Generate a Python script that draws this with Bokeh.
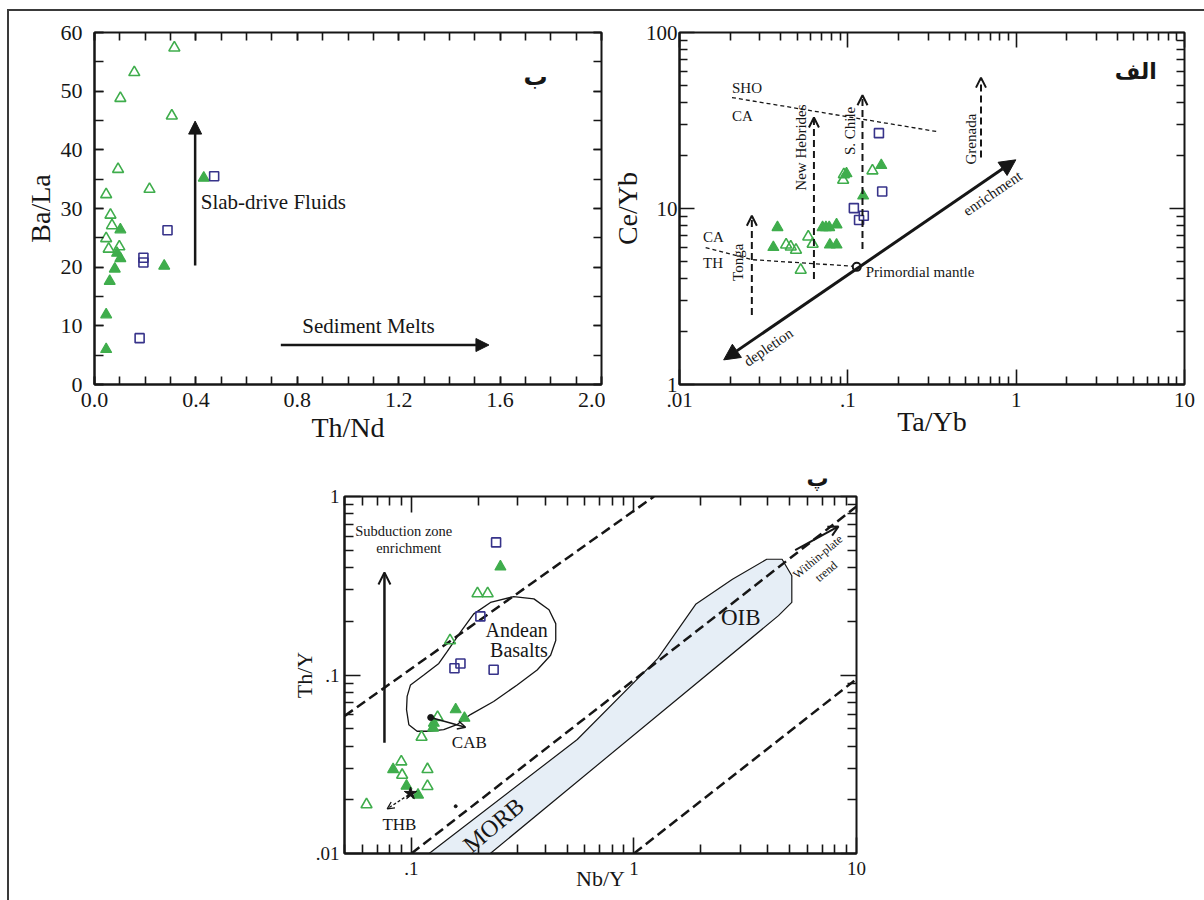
from bokeh.plotting import figure
from bokeh.layouts import row, column
from bokeh.models import (LinearAxis, FixedTicker, SingleIntervalTicker,
                          PrintfTickFormatter, CustomJSTickFormatter, Arrow, NormalHead,
                          OpenHead, Range1d, Div, Spacer, CustomLabelingPolicy)
from bokeh.core.properties import value
from bokeh.embed import file_html
from bokeh.resources import INLINE

SERIF = "Liberation Serif"
PERSIAN = "DejaVu Sans"
GREEN = "#3fad4c"
PURPLE = "#37338a"
INK = "#161616"

# ---------------- Panel "ب" : Ba/La vs Th/Nd ----------------
b_open_thnd = [0.315, 0.157, 0.102, 0.305, 0.093, 0.217, 0.046, 0.063, 0.069, 0.046, 0.056, 0.098]
b_open_bala = [57.4, 53.2, 48.8, 45.8, 36.7, 33.3, 32.4, 28.9, 27.1, 24.9, 23.1, 23.5]
b_fill_thnd = [0.102, 0.089, 0.102, 0.080, 0.060, 0.046, 0.046, 0.275, 0.431]
b_fill_bala = [26.4, 22.4, 21.5, 19.7, 17.6, 11.9, 6.0, 20.2, 35.2]
b_sq_thnd = [0.472, 0.288, 0.193, 0.193, 0.178]
b_sq_bala = [35.5, 26.3, 21.6, 20.8, 7.9]
b_arrow_x0 = [0.397, 0.735]
b_arrow_y0 = [20.3, 6.73]
b_arrow_x1 = [0.397, 1.556]
b_arrow_y1 = [44.9, 6.73]
b_text = ["Slab-drive Fluids", "Sediment Melts"]
b_text_x = [0.419, 0.82]
b_text_y = [31.1, 9.9]
b_tag_x, b_tag_y = [1.74], [52.4]

# ---------------- Panel "الف" : Ce/Yb vs Ta/Yb ----------------
a_open_tayb = [0.0430, 0.0458, 0.0492, 0.0582, 0.0618, 0.0525, 0.0938, 0.0947, 0.140]
a_open_ceyb = [6.22, 6.06, 5.81, 6.91, 6.28, 4.47, 14.5, 15.6, 16.4]
a_fill_tayb = [0.0382, 0.0361, 0.0708, 0.0741, 0.0775, 0.0857, 0.0782, 0.0857, 0.0982, 0.1233, 0.158]
a_fill_ceyb = [7.81, 6.02, 7.81, 7.81, 7.81, 8.09, 6.22, 6.22, 15.8, 11.8, 17.6]
a_sq_tayb = [0.153, 0.160, 0.1086, 0.1244, 0.1166]
a_sq_ceyb = [26.8, 12.5, 10.05, 9.09, 8.6]
a_sho_x = [0.0205, 0.335]
a_sho_y = [42.7, 27.4]
a_th_x = [0.0143, 0.027, 0.112]
a_th_y = [6.0, 5.12, 4.69]
a_pm_x, a_pm_y = [0.113], [4.66]
a_trend_x = [0.0183, 0.995]
a_trend_y = [1.38, 18.9]
a_arc_x = [0.0269, 0.0629, 0.1222, 0.618]
a_arc_y0 = [2.48, 3.98, 5.89, 19.5]
a_arc_y1 = [9.1, 32.9, 44.0, 55.4]
a_arc_names = ["Tonga", "New Hebrides", "S. Chile", "Grenada"]
a_arc_lx = [0.0224, 0.0527, 0.1037, 0.54]
a_arc_ly = [4.95, 22.2, 27.6, 24.8]
a_field_names = ["SHO", "CA", "CA", "TH"]
a_field_x = [0.0205, 0.0205, 0.0138, 0.0138]
a_field_y = [48.6, 33.6, 6.86, 4.88]
a_trend_names = ["depletion", "enrichment"]
a_trend_lx = [0.0337, 0.724]
a_trend_ly = [1.63, 12.2]
a_tag_x, a_tag_y = [5.13], [60.0]

# ---------------- Panel "پ" : Th/Y vs Nb/Y ----------------
c_open_nby = [0.131, 0.111, 0.149, 0.198, 0.220, 0.090, 0.0908, 0.118, 0.118, 0.0628]
c_open_thy = [0.058, 0.0449, 0.156, 0.286, 0.286, 0.0327, 0.0275, 0.0296, 0.0238, 0.0188]
c_fill_nby = [0.126, 0.125, 0.158, 0.173, 0.251, 0.0827, 0.095, 0.107]
c_fill_thy = [0.0538, 0.0505, 0.064, 0.0574, 0.404, 0.0296, 0.0239, 0.0213]
c_sq_nby = [0.240, 0.204, 0.156, 0.166, 0.234]
c_sq_thy = [0.553, 0.213, 0.109, 0.116, 0.107]
c_lines_x = [[0.0501, 1.23], [0.1, 10.0], [1.0, 10.0]]
c_lines_y = [[0.059, 1.0], [0.01, 0.88], [0.01, 0.095]]
c_band_x = [0.120, 0.556, 1.28, 1.90, 2.77, 3.95, 4.63, 5.12, 5.12, 4.46, 0.226]
c_band_y = [0.0100, 0.0435, 0.124, 0.25, 0.344, 0.445, 0.445, 0.36, 0.255, 0.215, 0.0100]
c_andes_x = [0.0956, 0.099, 0.1136, 0.1327, 0.1446, 0.166, 0.1905, 0.2265, 0.288, 0.355, 0.415,
             0.445, 0.445, 0.422, 0.367, 0.2985, 0.234, 0.184, 0.160, 0.1396, 0.1197, 0.106,
             0.0973, 0.0950, 0.0956]
c_andes_y = [0.0759, 0.088, 0.100, 0.116, 0.135, 0.174, 0.220, 0.255, 0.275, 0.267, 0.232,
             0.194, 0.156, 0.129, 0.1066, 0.088, 0.0711, 0.060, 0.0527, 0.0494, 0.0484, 0.0484,
             0.0527, 0.064, 0.0759]
c_star_x, c_star_y = [0.099], [0.0217]
c_cab_x, c_cab_y = [0.122], [0.0578]
c_dot_x, c_dot_y = [0.158], [0.0184]
c_sub_arrow = dict(x0=0.0756, y0=0.0417, x1=0.0756, y1=0.375)
c_cab_arrow = dict(x0=0.122, y0=0.0578, x1=0.175, y1=0.051)
c_thb_arrow = dict(x0=0.097, y0=0.0213, x1=0.0778, y1=0.0178)
c_wp_arrow = dict(x0=5.3, y0=0.50, x1=8.3, y1=0.68)
c_labels = ["Subduction zone", "enrichment", "Andean", "Basalts", "CAB", "THB", "OIB"]
c_label_x = [0.0923, 0.0972, 0.297, 0.304, 0.182, 0.0883, 3.02]
c_label_y = [0.64, 0.516, 0.179, 0.138, 0.0417, 0.0146, 0.211]
c_label_size = ["14.5px", "14.5px", "20px", "20px", "17px", "17px", "23px"]
c_rot_labels = ["MORB", "Within-plate", "trend"]
c_rot_x = [0.234, 6.7, 7.3]
c_rot_y = [0.0144, 0.46, 0.38]
c_rot_size = ["24px", "12px", "12px"]

decade_minor = lambda lo, hi: [m * 10.0 ** e for e in range(lo, hi) for m in range(2, 10)]


def logfmt():
    return CustomJSTickFormatter(code="return tick < 1 ? String(tick).replace(/^0/, '') : String(tick);")


def style_axis(ax, tick_px, major_in, minor_in, label_px=None, lab_stand=5, axlab_stand=4):
    ax.major_tick_in = major_in
    ax.major_tick_out = 0
    ax.minor_tick_in = minor_in
    ax.minor_tick_out = 0
    ax.major_tick_line_color = INK
    ax.minor_tick_line_color = INK
    ax.major_tick_line_width = 1.6
    ax.minor_tick_line_width = 1.6
    ax.axis_line_color = INK
    ax.axis_line_width = 2
    ax.major_label_text_font = SERIF
    ax.major_label_text_font_size = tick_px
    ax.major_label_text_color = INK
    ax.major_label_standoff = lab_stand
    ax.axis_label_text_font = SERIF
    ax.axis_label_text_font_style = "normal"
    ax.axis_label_text_color = INK
    if label_px:
        ax.axis_label_text_font_size = label_px
    ax.axis_label_standoff = axlab_stand


def mirror(p, xticker, yticker, major_in, minor_in):
    top = LinearAxis(ticker=xticker)
    right = LinearAxis(ticker=yticker)
    for ax in (top, right):
        style_axis(ax, "1px", major_in, minor_in, lab_stand=0, axlab_stand=0)
        ax.major_label_policy = CustomLabelingPolicy(code="return []")
        ax.axis_line_color = None
    p.add_layout(top, "above")
    p.add_layout(right, "right")


def base_fig(**kw):
    p = figure(output_backend="svg", toolbar_location=None, background_fill_color="white",
               border_fill_color="white", outline_line_color=INK, outline_line_width=2, **kw)
    p.xgrid.visible = False
    p.ygrid.visible = False
    return p


def markers(p, ox, oy, fx, fy, sx, sy):
    p.scatter(ox, oy, marker="triangle", size=11, fill_color=None, line_color=GREEN, line_width=1.6)
    p.scatter(fx, fy, marker="triangle", size=11, fill_color=GREEN, line_color=GREEN, line_width=1.2)
    p.scatter(sx, sy, marker="square", size=9, fill_color=None, line_color=PURPLE, line_width=1.6)


# ================= Panel 1 =================
p1 = base_fig(width=596, height=450, x_range=Range1d(0, 2.0), y_range=Range1d(0, 60),
              min_border_left=85, min_border_right=2, min_border_top=21, min_border_bottom=77)
p1.xaxis.ticker = SingleIntervalTicker(interval=0.4, num_minor_ticks=4)
p1.yaxis.ticker = SingleIntervalTicker(interval=10, num_minor_ticks=2)
p1.xaxis.formatter = PrintfTickFormatter(format="%.1f")
p1.xaxis.axis_label = "Th/Nd"
p1.yaxis.axis_label = "Ba/La"
style_axis(p1.xaxis[0], "22px", 8, 8, "28px", lab_stand=8, axlab_stand=2)
style_axis(p1.yaxis[0], "22px", 9, 9, "28px", lab_stand=12, axlab_stand=2)
mirror(p1, SingleIntervalTicker(interval=0.4, num_minor_ticks=4),
       SingleIntervalTicker(interval=10, num_minor_ticks=2), 8, 8)
for i in range(len(b_arrow_x0)):
    p1.add_layout(Arrow(end=NormalHead(size=13, fill_color=INK, line_color=INK),
                        x_start=b_arrow_x0[i], y_start=b_arrow_y0[i],
                        x_end=b_arrow_x1[i], y_end=b_arrow_y1[i], line_width=2.5, line_color=INK))
markers(p1, b_open_thnd, b_open_bala, b_fill_thnd, b_fill_bala, b_sq_thnd, b_sq_bala)
p1.text(b_text_x, b_text_y, text=b_text, text_font=value(SERIF), text_font_size="21px",
        text_color=INK, text_align="left", text_baseline="middle")
p1.text(b_tag_x, b_tag_y, text=["ب"], text_font=value(PERSIAN), text_font_size="24px",
        text_font_style="bold", text_color=INK, text_align="center", text_baseline="middle")

# ================= Panel 2 =================
p2 = base_fig(width=599, height=450, x_axis_type="log", y_axis_type="log",
              x_range=Range1d(0.01, 10), y_range=Range1d(1, 100),
              min_border_left=74, min_border_right=20, min_border_top=21, min_border_bottom=77)
p2.xaxis.ticker = FixedTicker(ticks=[0.01, 0.1, 1, 10], minor_ticks=decade_minor(-2, 1))
p2.yaxis.ticker = FixedTicker(ticks=[1, 10, 100], minor_ticks=decade_minor(0, 2))
p2.xaxis.formatter = logfmt()
p2.yaxis.formatter = logfmt()
p2.xaxis.axis_label = "Ta/Yb"
p2.yaxis.axis_label = "Ce/Yb"
style_axis(p2.xaxis[0], "21px", 15, 8, "28px", lab_stand=8, axlab_stand=-4)
style_axis(p2.yaxis[0], "21px", 15, 8, "28px", lab_stand=2, axlab_stand=0)
mirror(p2, FixedTicker(ticks=[0.01, 0.1, 1, 10], minor_ticks=decade_minor(-2, 1)),
       FixedTicker(ticks=[1, 10, 100], minor_ticks=decade_minor(0, 2)), 15, 8)
p2.line(a_sho_x, a_sho_y, line_color=INK, line_width=1.3, line_dash="4 3")
p2.line(a_th_x, a_th_y, line_color=INK, line_width=1.3, line_dash="4 3")
for i in range(len(a_arc_x)):
    p2.add_layout(Arrow(end=OpenHead(size=10, line_width=2, line_color=INK),
                        x_start=a_arc_x[i], y_start=a_arc_y0[i],
                        x_end=a_arc_x[i], y_end=a_arc_y1[i],
                        line_width=2, line_color=INK, line_dash="7 4"))
p2.add_layout(Arrow(start=NormalHead(size=16, fill_color=INK, line_color=INK),
                    end=NormalHead(size=16, fill_color=INK, line_color=INK),
                    x_start=a_trend_x[0], y_start=a_trend_y[0],
                    x_end=a_trend_x[1], y_end=a_trend_y[1], line_width=3, line_color=INK))
markers(p2, a_open_tayb, a_open_ceyb, a_fill_tayb, a_fill_ceyb, a_sq_tayb, a_sq_ceyb)
p2.scatter(a_pm_x, a_pm_y, marker="circle", size=8, fill_color="white", line_color=INK, line_width=2)
p2.text(a_field_x, a_field_y, text=a_field_names, text_font=value(SERIF), text_font_size="15px",
        text_color=INK, text_align="left", text_baseline="middle")
p2.text(a_arc_lx, a_arc_ly, text=a_arc_names, text_font=value(SERIF), text_font_size="15px",
        text_color=INK, text_align="center", text_baseline="middle", angle=1.5708)
p2.text(a_trend_lx, a_trend_ly, text=a_trend_names, text_font=value(SERIF), text_font_size="15px",
        text_color=INK, text_align="center", text_baseline="middle", angle=0.602)
p2.text([a_pm_x[0] * 1.13], [a_pm_y[0] * 0.93], text=["Primordial mantle"], text_font=value(SERIF),
        text_font_size="15px", text_color=INK, text_align="left", text_baseline="middle")
p2.text(a_tag_x, a_tag_y, text=["الف"], text_font=value(PERSIAN), text_font_size="22px",
        text_font_style="bold", text_color=INK, text_align="center", text_baseline="middle")

# ================= Panel 3 =================
p3 = base_fig(width=597, height=439, x_axis_type="log", y_axis_type="log",
              x_range=Range1d(0.05, 10), y_range=Range1d(0.01, 1),
              min_border_left=65, min_border_right=20, min_border_top=32, min_border_bottom=47,
              title="پ")
p3.title.text_font = PERSIAN
p3.title.text_font_size = "22px"
p3.title.text_font_style = "bold"
p3.title.text_color = INK
p3.title.align = "left"
p3.title.offset = 462
p3.title.standoff = 4
p3.xaxis.ticker = FixedTicker(ticks=[0.1, 1, 10], minor_ticks=decade_minor(-2, 1))
p3.yaxis.ticker = FixedTicker(ticks=[0.01, 0.1, 1], minor_ticks=decade_minor(-2, 0))
p3.xaxis.formatter = logfmt()
p3.yaxis.formatter = logfmt()
p3.xaxis.axis_label = "Nb/Y"
p3.yaxis.axis_label = "Th/Y"
style_axis(p3.xaxis[0], "19px", 16, 9, "22px", lab_stand=8, axlab_stand=-12)
style_axis(p3.yaxis[0], "19px", 16, 9, "22px", lab_stand=5, axlab_stand=-4)
mirror(p3, FixedTicker(ticks=[0.1, 1, 10], minor_ticks=decade_minor(-2, 1)),
       FixedTicker(ticks=[0.01, 0.1, 1], minor_ticks=decade_minor(-2, 0)), 16, 9)
p3.patch(c_band_x, c_band_y, fill_color="#e6eef6", line_color=INK, line_width=1.2)
p3.line(c_andes_x, c_andes_y, line_color=INK, line_width=1.3)
p3.multi_line(c_lines_x, c_lines_y, line_color=INK, line_width=2.5, line_dash="10 5")
p3.add_layout(Arrow(end=OpenHead(size=12, line_width=2, line_color=INK),
                    x_start=c_sub_arrow["x0"], y_start=c_sub_arrow["y0"],
                    x_end=c_sub_arrow["x1"], y_end=c_sub_arrow["y1"], line_width=2.5, line_color=INK))
p3.add_layout(Arrow(end=OpenHead(size=8, line_width=1.5, line_color=INK),
                    x_start=c_cab_arrow["x0"], y_start=c_cab_arrow["y0"],
                    x_end=c_cab_arrow["x1"], y_end=c_cab_arrow["y1"], line_width=1.5, line_color=INK))
p3.add_layout(Arrow(end=OpenHead(size=7, line_width=1.3, line_color=INK),
                    x_start=c_thb_arrow["x0"], y_start=c_thb_arrow["y0"],
                    x_end=c_thb_arrow["x1"], y_end=c_thb_arrow["y1"], line_width=1.3,
                    line_color=INK, line_dash="3 2"))
p3.add_layout(Arrow(end=OpenHead(size=10, line_width=2, line_color=INK),
                    x_start=c_wp_arrow["x0"], y_start=c_wp_arrow["y0"],
                    x_end=c_wp_arrow["x1"], y_end=c_wp_arrow["y1"], line_width=2, line_color=INK))
markers(p3, c_open_nby, c_open_thy, c_fill_nby, c_fill_thy, c_sq_nby, c_sq_thy)
p3.scatter(c_star_x, c_star_y, marker="star", size=13, fill_color=INK, line_color=INK)
p3.scatter(c_cab_x, c_cab_y, marker="circle", size=6, fill_color=INK, line_color=INK)
p3.scatter(c_dot_x, c_dot_y, marker="circle", size=3, fill_color=INK, line_color=INK)
for i in range(len(c_labels)):
    p3.text([c_label_x[i]], [c_label_y[i]], text=[c_labels[i]], text_font=value(SERIF),
            text_font_size=c_label_size[i], text_color=INK, text_align="center",
            text_baseline="middle")
for i in range(len(c_rot_labels)):
    p3.text([c_rot_x[i]], [c_rot_y[i]], text=[c_rot_labels[i]], text_font=value(SERIF),
            text_font_size=c_rot_size[i], text_color=INK, text_align="center",
            text_baseline="middle", angle=0.70)

# ================= Layout with outer frame rules =================
RULE = "#3a3a3a"
top_rule = Div(text="", width=1197, height=2, margin=(0, 0, 0, 0), styles={"background-color": RULE})
left_rule = Div(text="", width=2, height=889, margin=(0, 0, 0, 0), styles={"background-color": RULE})
content = column(row(p1, p2), row(Spacer(width=270, height=10), p3))
layout = column(
    Spacer(width=1204, height=9),
    row(Spacer(width=7, height=2), top_rule),
    row(Spacer(width=7, height=889), left_rule, content),
)

open("out.html", "w").write(file_html(layout, INLINE))
